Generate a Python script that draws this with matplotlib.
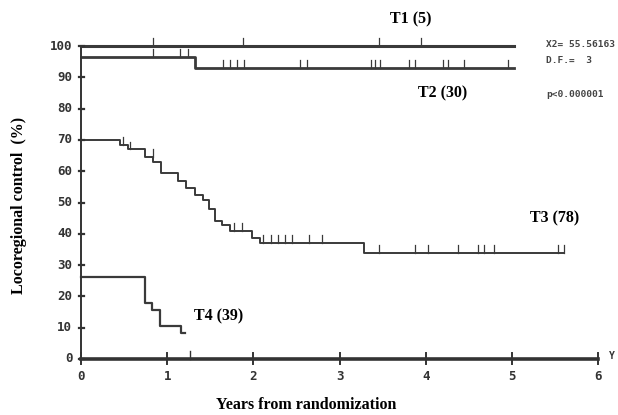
import numpy as np
import matplotlib.pyplot as plt

# step curves (time in years, % locoregional control)
t1_t = [0, 5.02]
t1_v = [100, 100]
t1_cens = [0.84, 1.88, 3.46, 3.94]

t2_t = [0, 1.32, 5.02]
t2_v = [96.5, 93, 93]
t2_cens = [0.84, 1.15, 1.24, 1.65, 1.73, 1.81, 1.89, 2.54, 2.62, 3.36, 3.41, 3.47,
           3.80, 3.88, 4.20, 4.26, 4.44, 4.95]

t3_t = [0, 0.45, 0.55, 0.74, 0.84, 0.93, 1.12, 1.22, 1.32, 1.41, 1.49, 1.56, 1.64,
        1.73, 1.98, 2.08, 3.28, 5.6]
t3_v = [70, 68.5, 67, 64.5, 63, 59.5, 57, 54.5, 52.5, 50.8, 47.8, 44, 42.8,
        40.8, 38.8, 37, 34, 34]
t3_cens = [0.49, 0.57, 0.83, 1.77, 1.87, 2.11, 2.2, 2.28, 2.37, 2.45, 2.64, 2.8,
           3.46, 3.88, 4.03, 4.37, 4.61, 4.68, 4.79, 5.53, 5.6]

t4_t = [0, 0.74, 0.82, 0.92, 1.16, 1.21]
t4_v = [26.3, 18, 15.5, 10.5, 8.3, 8.3]

labels = ['T1 (5)', 'T2 (30)', 'T3 (78)', 'T4 (39)']
xticks = [0, 1, 2, 3, 4, 5, 6]
yticks = [0, 10, 20, 30, 40, 50, 60, 70, 80, 90, 100]

def value_at(ts, vs, x):
    i = np.searchsorted(ts, x, side='right') - 1
    return vs[max(i, 0)]

fig = plt.figure(figsize=(6.18, 4.15), dpi=100)
ax = fig.add_axes([0.131, 0.135, 0.837, 0.754])
ax.set_xlim(0, 6)
ax.set_ylim(0, 100)
for s in ax.spines.values():
    s.set_visible(False)
ax.set_xticks([])
ax.set_yticks([])

col = '#3a3a3a'
curves = [(t1_t, t1_v, t1_cens, 2.2), (t2_t, t2_v, t2_cens, 2.0),
          (t3_t, t3_v, t3_cens, 1.4), (t4_t, t4_v, [], 1.6)]
for ts, vs, cens, lw in curves:
    ax.step(ts, vs, where='post', color=col, lw=lw, clip_on=False)
    for c in cens:
        y = value_at(ts, vs, c)
        ax.plot([c, c], [y, y + 2.5], color=col, lw=0.9, clip_on=False)

# axes drawn like the old plotting program
ax.plot([0, 6], [0, 0], color='#333333', lw=2.6, clip_on=False)
ax.plot([0, 0], [0, 100], color='#333333', lw=1.4, clip_on=False)
mono = dict(family='DejaVu Sans Mono', fontweight='bold', color='#333333')
for x in xticks:
    ax.plot([x, x], [-1.5, 1.8], color='#333333', lw=1.4, clip_on=False)
    ax.text(x, -3.5, str(x), ha='center', va='top', fontsize=9, **mono)
ax.plot([1.27, 1.27], [0, 2.5], color='#333333', lw=1.0, clip_on=False)
ax.text(6.12, 1, 'Y', ha='left', va='center', fontsize=7, **mono)
for y in yticks:
    ax.plot([-0.02, 0.03], [y, y], color='#333333', lw=1.6, clip_on=False)
    ax.text(-0.1, y, str(y), ha='right', va='center', fontsize=9, **mono)

serif = dict(family='Liberation Serif', fontweight='bold', fontsize=11.5)
ax.text(3.83, 108.5, labels[0], ha='center', va='center', **serif)
ax.text(4.2, 85, labels[1], ha='center', va='center', **serif)
ax.text(5.5, 45, labels[2], ha='center', va='center', **serif)
ax.text(1.6, 13.5, labels[3], ha='center', va='center', **serif)

stat = dict(family='DejaVu Sans Mono', fontweight='bold', fontsize=6.8, color='#444444')
ax.text(5.4, 100.5, 'X2= 55.56163', ha='left', va='center', **stat)
ax.text(5.4, 95.5, 'D.F.=  3', ha='left', va='center', **stat)
ax.text(5.4, 84.5, 'p<0.000001', ha='left', va='center', **stat)

fig.text(0.03, 0.505, 'Locoregional control  (%)', rotation=90, ha='center',
         va='center', **serif)
fig.text(0.495, 0.025, 'Years from randomization', ha='center', va='center',
         **serif)

fig.savefig('out.png', dpi=100)
